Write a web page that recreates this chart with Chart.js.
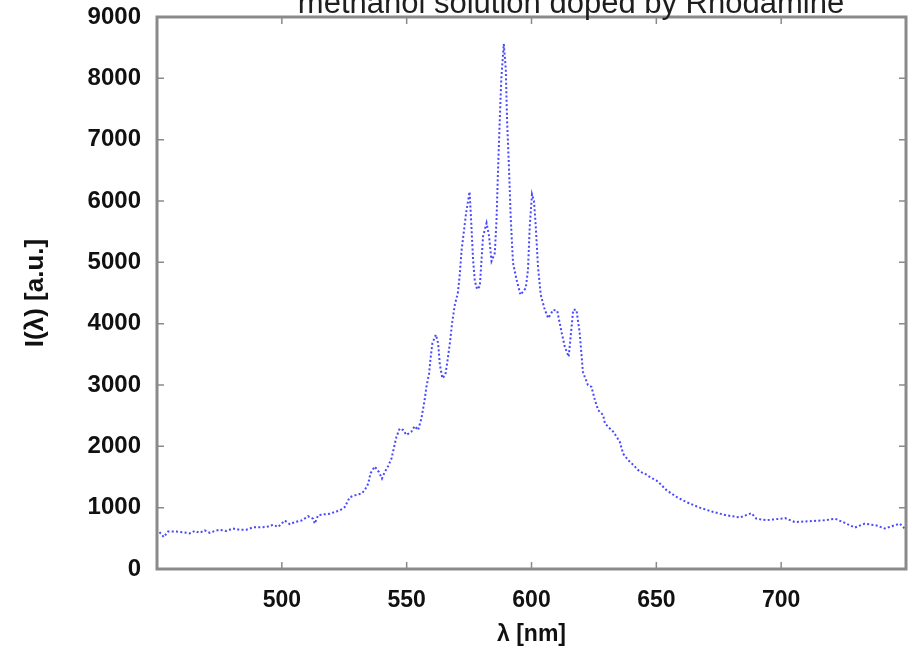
<!DOCTYPE html>
<html>
<head>
<meta charset="utf-8">
<script src="https://cdn.jsdelivr.net/npm/chart.js@4.4.0/dist/chart.umd.min.js"></script>
<style>
    html, body { margin: 0; padding: 0; background: #ffffff; }
    #grafico { display: block; }
</style>
</head>
<body>
<canvas id="grafico" width="912" height="651"></canvas>
<script>
var titulo = 'methanol solution doped by Rhodamine';
var tituloX = 'λ [nm]';
var tituloY = 'I(λ) [a.u.]';

var comprimentos = [
    451, 452.7, 454.4, 457.8, 460.4, 463.1, 465.1, 467.1, 469.1, 471.1,
    473.1, 475.1, 477.8, 480.4, 483.1, 485.8, 488.5, 491.1, 493.8, 496.5,
    498.5, 501.2, 503.2, 505.2, 507.9, 510.5, 512.5, 513.2, 514.5, 516.5,
    519.2, 521.2, 523.2, 525.2, 527.2, 529.2, 531.9, 533.2, 534.6, 535.5,
    537.2, 538.9, 540.1, 541.2, 542.5, 543.9, 545.9, 547.2, 548.6, 549.9,
    551.9, 553.2, 554.6, 555.9, 557.2, 557.9, 559, 559.5, 560.3, 561.7,
    562.6, 563.3, 564.3, 565.5, 566.3, 567.3, 568.2, 569.3, 570.5, 571.2,
    572, 573.8, 575.2, 575.8, 576.6, 577.3, 578.2, 579.3, 580.6, 582,
    583, 584, 585.3, 586, 586.6, 587.3, 587.9, 588.9, 589.7, 590.2,
    591, 591.7, 592.6, 594, 595.6, 597.7, 598.6, 599.3, 600.2, 601,
    601.7, 602.6, 603.7, 605.3, 606.7, 608.7, 610.3, 612, 613.3, 614.9,
    616.7, 618, 619.3, 620.6, 622.6, 624, 625.4, 626.7, 628.7, 629.4,
    631.4, 632.7, 634.1, 635.4, 636.7, 638.7, 640.7, 643.4, 645.4, 647.4,
    650.1, 651.4, 654.1, 658.1, 662.1, 667.4, 672.8, 678.1, 683.5, 688.1,
    690.1, 694.1, 699.5, 701.5, 705.5, 711.5, 717.5, 721.5, 724.8, 729.5,
    733.5, 738.2, 741.5, 747.5, 749.5
];

var intensidades = [
    600, 520, 610, 610, 600, 580, 620, 590, 630, 590,
    620, 640, 620, 660, 640, 640, 680, 680, 685, 720,
    685, 790, 730, 765, 790, 860, 820, 740, 875, 890,
    900, 930, 955, 1010, 1170, 1200, 1230, 1285, 1390, 1560,
    1670, 1580, 1475, 1580, 1670, 1800, 2155, 2290, 2265, 2185,
    2240, 2330, 2265, 2455, 2755, 2970, 3190, 3410, 3680, 3820,
    3680, 3330, 3110, 3165, 3380, 3680, 4010, 4310, 4500, 4770,
    5200, 5800, 6150, 5700, 5040, 4700, 4560, 4610, 5425, 5640,
    5425, 5020, 5150, 5700, 6515, 7330, 7990, 8560, 8150, 7330,
    6515, 5700, 4990, 4720, 4470, 4580, 4880, 5590, 6110, 6000,
    5590, 4930, 4470, 4230, 4090, 4225, 4210, 3870, 3630, 3460,
    4225, 4225, 3850, 3210, 3000, 2970, 2755, 2590, 2510, 2375,
    2290, 2240, 2155, 2070, 1880, 1775, 1700, 1585, 1556, 1500,
    1440, 1395, 1285, 1175, 1090, 1000, 930, 875, 840, 910,
    820, 795, 820, 830, 765, 780, 795, 820, 765, 675,
    740, 710, 660, 740, 660
];

var ticksX = [500, 550, 600, 650, 700];
var ticksY = [0, 1000, 2000, 3000, 4000, 5000, 6000, 7000, 8000, 9000];

var fonteEixo = '"Liberation Sans", Arial, Helvetica, sans-serif';

// monta os pontos {x, y} a partir das listas
var pontos = [];
for (var i = 0; i < comprimentos.length; i++) {
    pontos.push({ x: comprimentos[i], y: intensidades[i] });
}

// moldura estilo gnuplot com marcas para dentro + titulo cortado no topo
var moldura = {
    id: 'moldura',
    afterDatasetsDraw: function (chart) {
        var ctx = chart.ctx;
        var area = chart.chartArea;
        var escalaX = chart.scales.x;
        var escalaY = chart.scales.y;

        ctx.save();
        ctx.strokeStyle = '#8a8a8a';
        ctx.lineWidth = 1.5;
        ctx.beginPath();
        ticksY.forEach(function (v) {
            var py = escalaY.getPixelForValue(v);
            ctx.moveTo(area.left, py);
            ctx.lineTo(area.left + 7, py);
            ctx.moveTo(area.right, py);
            ctx.lineTo(area.right - 7, py);
        });
        ticksX.forEach(function (v) {
            var px = escalaX.getPixelForValue(v);
            ctx.moveTo(px, area.bottom);
            ctx.lineTo(px, area.bottom - 7);
            ctx.moveTo(px, area.top);
            ctx.lineTo(px, area.top + 7);
        });
        ctx.stroke();

        ctx.lineWidth = 3;
        ctx.strokeRect(area.left, area.top, area.right - area.left, area.bottom - area.top);

        ctx.fillStyle = '#1e1e1e';
        ctx.font = '31px ' + fonteEixo;
        ctx.textAlign = 'center';
        ctx.textBaseline = 'alphabetic';
        ctx.fillText(titulo, 571, 13);
        ctx.restore();
    }
};

function rotuloSimples(valor) {
    return String(valor);
}

var config = {
    type: 'line',
    data: {
        datasets: [{
            data: pontos,
            borderColor: 'rgba(40, 40, 255, 0.85)',
            borderWidth: 2,
            borderDash: [2, 2.3],
            pointRadius: 0,
            fill: false,
            tension: 0
        }]
    },
    options: {
        responsive: false,
        animation: false,
        devicePixelRatio: 1,
        layout: {
            padding: { left: 0, right: 6, top: 17, bottom: 0 }
        },
        plugins: {
            legend: { display: false },
            tooltip: { enabled: false }
        },
        scales: {
            x: {
                type: 'linear',
                min: 450,
                max: 750,
                afterBuildTicks: function (escala) {
                    escala.ticks = ticksX.map(function (v) { return { value: v }; });
                },
                afterFit: function (escala) {
                    escala.height = 82;
                    escala.paddingLeft = 0;
                    escala.paddingRight = 0;
                },
                grid: { display: false, drawTicks: false },
                border: { display: false },
                ticks: {
                    color: '#111',
                    padding: 18,
                    maxRotation: 0,
                    callback: rotuloSimples,
                    font: { family: fonteEixo, size: 23, weight: 'bold' }
                },
                title: {
                    display: true,
                    text: tituloX,
                    color: '#111',
                    padding: { top: 0, bottom: 3 },
                    font: { family: fonteEixo, size: 23, weight: 'bold' }
                }
            },
            y: {
                type: 'linear',
                min: 0,
                max: 9000,
                afterBuildTicks: function (escala) {
                    escala.ticks = ticksY.map(function (v) { return { value: v }; });
                },
                afterFit: function (escala) {
                    escala.width = 157;
                    escala.paddingTop = 0;
                    escala.paddingBottom = 0;
                },
                grid: { display: false, drawTicks: false },
                border: { display: false },
                ticks: {
                    color: '#111',
                    padding: 16,
                    callback: rotuloSimples,
                    font: { family: fonteEixo, size: 24, weight: 'bold' }
                },
                title: {
                    display: true,
                    text: tituloY,
                    color: '#111',
                    padding: { top: 20, bottom: 0 },
                    font: { family: fonteEixo, size: 26, weight: 'bold' }
                }
            }
        }
    },
    plugins: [moldura]
};

var grafico = new Chart(document.getElementById('grafico'), config);
</script>
</body>
</html>
